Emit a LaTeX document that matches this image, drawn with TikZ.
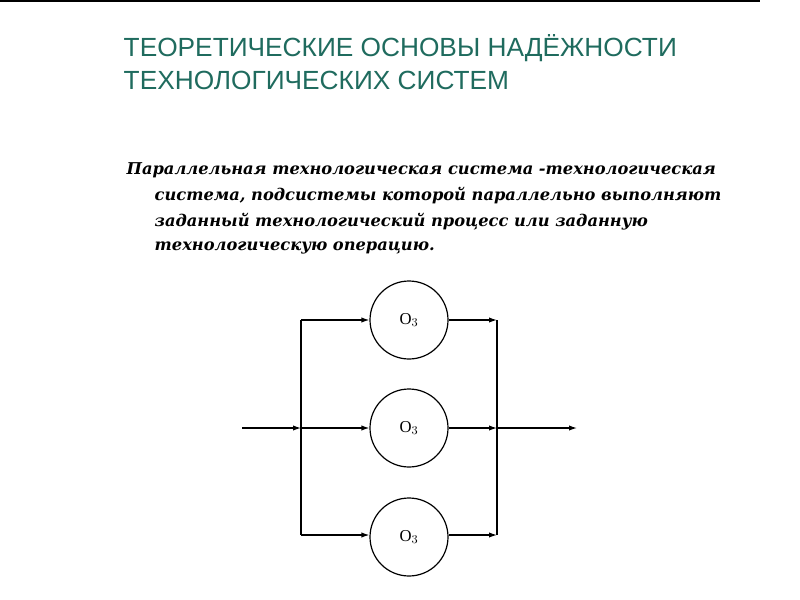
\documentclass[tikz,border=0pt]{standalone}
\usepackage{fontspec}
\setmainfont{Liberation Serif}
\newfontfamily\titlefont{Liberation Sans}
\newfontfamily\bodyfont{DejaVu Serif}
\usetikzlibrary{arrows.meta}
\definecolor{titlecol}{HTML}{1F6B5E}
\begin{document}
\begin{tikzpicture}[x=0.75pt,y=-0.75pt,
  unit/.style={circle,draw,line width=0.9pt,minimum size=78*0.75pt,inner sep=0pt,font=\fontsize{12.5}{13}\selectfont},
  flow/.style={line width=0.9pt,-{Latex[length=6pt,width=4pt]}},
  bus/.style={line width=0.9pt},
  ttl/.style={anchor=west,text=titlecol,font=\titlefont\fontsize{19.7}{22}\selectfont},
  body/.style={anchor=west,font=\bodyfont\bfseries\itshape\fontsize{12.2}{15}\selectfont}]
\useasboundingbox (0,0) rectangle (800,600);
\draw[line width=0.8pt] (0,1) -- (760,1);
\node[ttl] (t1) at (119,48) {ТЕОРЕТИЧЕСКИЕ ОСНОВЫ НАДЁЖНОСТИ};
\node[ttl] (t2) at (119,80) {ТЕХНОЛОГИЧЕСКИХ СИСТЕМ};
\node[body] (b1) at (122,170) {Параллельная технологическая система -технологическая};
\node[body] (b2) at (150,196) {система, подсистемы которой параллельно выполняют};
\node[body] (b3) at (150,222) {заданный технологический процесс или заданную};
\node[body] (b4) at (150,248) {технологическую операцию.};
\node[unit] (o1) at (409,320) {O$_3$};
\node[unit] (o2) at (409,428) {O$_3$};
\node[unit] (o3) at (409,537) {O$_3$};
\coordinate (in) at (242,428);
\coordinate (lt) at (301,320);
\coordinate (lm) at (301,428);
\coordinate (lb) at (301,535);
\coordinate (rt) at (497,320);
\coordinate (rm) at (497,428);
\coordinate (rb) at (497,535);
\coordinate (out) at (577,428);
\draw[bus] (lt) -- (lb);
\draw[bus] (rt) -- (rb);
\draw[flow] (in) -- (lm);
\draw[flow] (lt) -- (o1.west|-lt);
\draw[flow] (lm) -- (o2.west);
\draw[flow] (lb) -- (o3.west|-lb);
\draw[flow] (o1.east|-rt) -- (rt);
\draw[flow] (o2.east) -- (rm);
\draw[flow] (o3.east|-rb) -- (rb);
\draw[flow] (rm) -- (out);
\end{tikzpicture}
\end{document}
